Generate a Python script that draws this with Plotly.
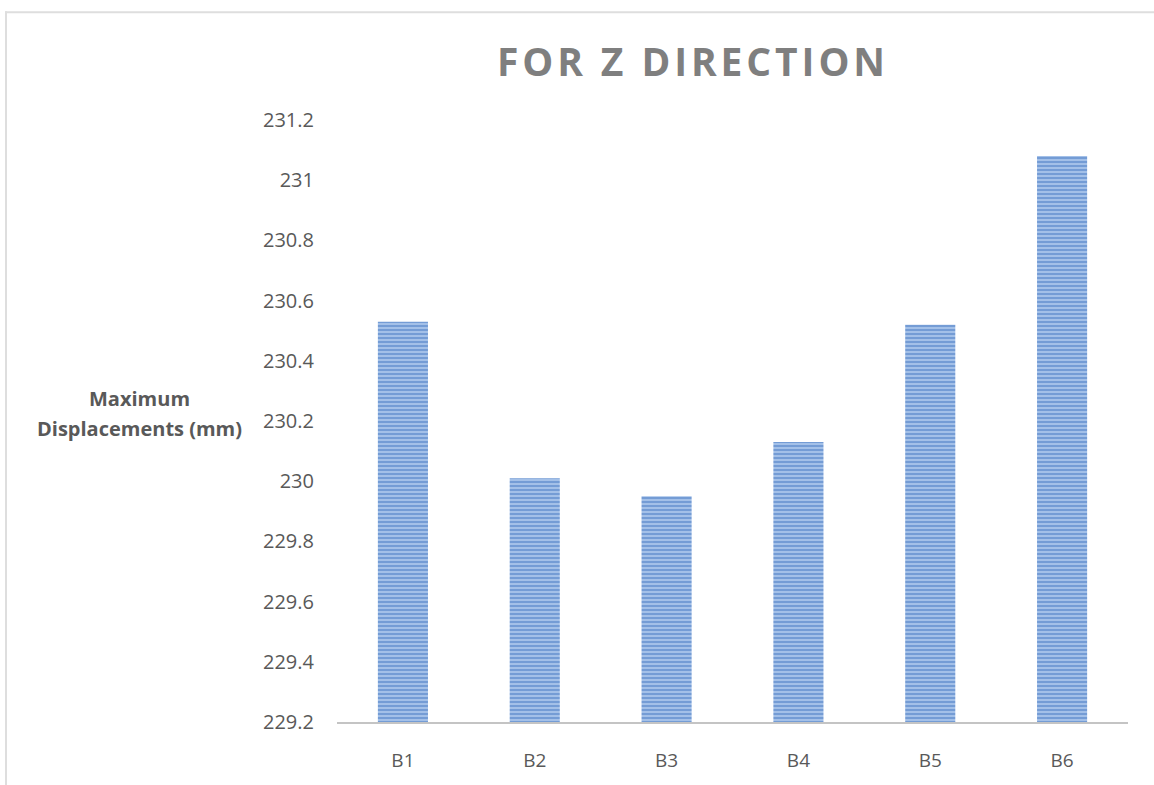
import plotly.graph_objects as go

# Maximum displacement per beam case, Z direction
categories = ["B1", "B2", "B3", "B4", "B5", "B6"]
max_displacement_mm = [230.53, 230.01, 229.95, 230.13, 230.52, 231.08]
y_ticks = [229.2, 229.4, 229.6, 229.8, 230.0, 230.2, 230.4, 230.6, 230.8, 231.0, 231.2]
y_tick_text = ["229.2", "229.4", "229.6", "229.8", "230", "230.2", "230.4",
               "230.6", "230.8", "231", "231.2"]
chart_title = "FOR Z DIRECTION"

W, H = 1154, 785
L, R, T, B = 337, 26, 120, 56
plot_w = W - L - R
plot_h = H - T - B


def px_x(px):
    return (px - L) / plot_w


def px_y(py):
    return (H - B - py) / plot_h


# widen the title tracking with hair spaces between letters
tracked_title = "\u200a".join(chart_title)

fig = go.Figure()
fig.add_trace(go.Bar(
    x=categories,
    y=max_displacement_mm,
    width=0.38,
    marker=dict(
        color="#9dbbe6",
        line=dict(width=0),
        pattern=dict(shape="-", fgcolor="#4677c2", bgcolor="#a3c0e8",
                     size=4, solidity=0.5),
    ),
    hoverinfo="x+y",
))

grey = "#595959"
fig.update_layout(
    width=W, height=H,
    margin=dict(l=L, r=R, t=T, b=B),
    paper_bgcolor="white",
    plot_bgcolor="white",
    showlegend=False,
    font=dict(family="Open Sans", color=grey),
    title=dict(
        text="<b>" + tracked_title + "</b>",
        font=dict(family="Open Sans", size=39, color="#7f7f7f"),
        x=691 / W, xanchor="center", xref="container",
        y=1 - 62 / H, yanchor="middle", yref="container",
    ),
    xaxis=dict(
        showline=True, linecolor="#c4c4c4", linewidth=2,
        showgrid=False, ticks="",
        tickfont=dict(family="Open Sans", size=19, color=grey),
        ticklabelstandoff=20,
    ),
    yaxis=dict(
        range=[229.2, 231.2],
        tickvals=y_ticks, ticktext=y_tick_text,
        showgrid=False, zeroline=False, showline=False, ticks="",
        tickfont=dict(family="Open Sans", size=20, color=grey),
        ticklabelstandoff=22,
    ),
    shapes=[
        # outer chart frame (left and top edges)
        dict(type="line", xref="paper", yref="paper",
             x0=px_x(6), x1=px_x(6), y0=px_y(10), y1=px_y(800),
             line=dict(color="#dedede", width=2)),
        dict(type="line", xref="paper", yref="paper",
             x0=px_x(5), x1=px_x(1170), y0=px_y(11), y1=px_y(11),
             line=dict(color="#dedede", width=2)),
    ],
    annotations=[
        dict(text="<b>Maximum</b>", xref="paper", yref="paper",
             x=px_x(139), y=px_y(402), xanchor="center", yanchor="middle",
             showarrow=False, font=dict(family="Open Sans", size=20, color=grey)),
        dict(text="<b>Displacements (mm)</b>", xref="paper", yref="paper",
             x=px_x(139), y=px_y(432), xanchor="center", yanchor="middle",
             showarrow=False, font=dict(family="Open Sans", size=20, color=grey)),
    ],
)

fig.write_html("out.html")
